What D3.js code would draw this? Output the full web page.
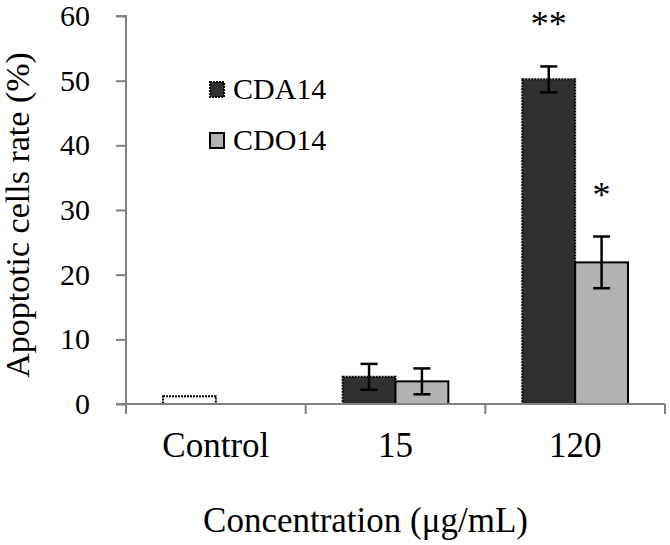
<!DOCTYPE html>
<html>
<head>
<meta charset="utf-8">
<script src="https://cdn.jsdelivr.net/npm/d3@7"></script>
<style>
  html, body { margin: 0; padding: 0; background: #fff; }
  svg { display: block; }
  text { font-family: "Liberation Serif", "Times New Roman", serif; fill: #000; }
</style>
</head>
<body>
<svg id="chart" width="670" height="545"></svg>
<script>
const categories = ["Control", "15", "120"];
const seriesNames = ["CDA14", "CDO14"];
const cda14 = [1.2, 4.2, 50.2];
const cda14Err = [0, 2.0, 2.0];
const cdo14 = [null, 3.5, 21.9];
const cdo14Err = [null, 2.0, 4.0];
const cda14Sig = ["", "", "**"];
const cdo14Sig = ["", "", "*"];
const yTicks = [0, 10, 20, 30, 40, 50, 60];

(function () {
const SERIF = '"Liberation Serif", "Times New Roman", serif';
const svg = d3.select("#chart");
const mLeft = 126, mRight = 665, mTop = 16, mBottom = 404;
const FONT = 30;

const x0 = d3.scaleBand().domain(categories).range([mLeft, mRight]).padding(0);
const x1 = d3.scaleBand().domain(seriesNames).range([0, x0.bandwidth()]).paddingInner(0).paddingOuter(0.7);
const y = d3.scaleLinear().domain([0, 60]).range([mBottom, mTop]);

const rows = categories.map((c, i) => ({
  cat: c,
  items: [
    { s: "CDA14", v: cda14[i], e: cda14Err[i], sig: cda14Sig[i], control: c === "Control" },
    { s: "CDO14", v: cdo14[i], e: cdo14Err[i], sig: cdo14Sig[i], control: false }
  ].filter(d => d.v != null)
}));

const fills = { CDA14: "#303030", CDO14: "#b2b2b2" };

const g = svg.append("g");
const groups = g.selectAll("g.grp").data(rows).enter().append("g")
  .attr("transform", d => `translate(${x0(d.cat)},0)`);

const items = groups.selectAll("g.item").data(d => d.items).enter().append("g");

items.append("rect")
  .attr("x", d => x1(d.s))
  .attr("width", x1.bandwidth())
  .attr("y", d => y(d.v))
  .attr("height", d => y(0) - y(d.v))
  .attr("fill", d => d.control ? "#ffffff" : fills[d.s])
  .attr("stroke", "#000")
  .attr("stroke-width", 2)
  .attr("stroke-dasharray", d => d.s === "CDA14" ? "2,1" : null);

const eb = items.filter(d => d.e > 0);
const capW = 17;
const cx = d => x1(d.s) + x1.bandwidth() / 2;
eb.append("line")
  .attr("x1", cx).attr("x2", cx)
  .attr("y1", d => y(d.v + d.e))
  .attr("y2", d => y(d.v - d.e))
  .attr("stroke", "#000").attr("stroke-width", 2.5);
eb.append("line")
  .attr("x1", d => cx(d) - capW / 2)
  .attr("x2", d => cx(d) + capW / 2)
  .attr("y1", d => y(d.v + d.e)).attr("y2", d => y(d.v + d.e))
  .attr("stroke", "#000").attr("stroke-width", 2.5);
eb.append("line")
  .attr("x1", d => cx(d) - capW / 2)
  .attr("x2", d => cx(d) + capW / 2)
  .attr("y1", d => y(d.v - d.e)).attr("y2", d => y(d.v - d.e))
  .attr("stroke", "#000").attr("stroke-width", 2.5);

items.filter(d => d.sig).append("text")
  .attr("x", cx)
  .attr("y", d => y(d.v + d.e) - 30)
  .attr("text-anchor", "middle")
  .style("font-family", SERIF)
  .style("font-size", "36px")
  .text(d => d.sig);

const axisColor = "#808080";
const yAxis = d3.axisLeft(y).tickValues(yTicks).tickSize(10).tickPadding(26).tickFormat(d3.format("d"));
const ya = svg.append("g").attr("transform", `translate(${mLeft},0)`).call(yAxis);
ya.attr("font-family", null);
ya.select(".domain").attr("stroke", axisColor).attr("stroke-width", 2).attr("d", `M-10,${mTop}H0V${mBottom}`);
ya.selectAll(".tick line").attr("stroke", axisColor).attr("stroke-width", 2);
ya.selectAll(".tick text").style("font-size", FONT + "px").style("font-family", SERIF).attr("fill", "#000");

const xa = svg.append("g").attr("transform", `translate(0,${mBottom})`);
xa.append("line").attr("x1", mLeft - 10).attr("x2", mRight).attr("y1", 0).attr("y2", 0)
  .attr("stroke", axisColor).attr("stroke-width", 2);
const boundaries = categories.map(c => x0(c)).concat([x0(categories[categories.length - 1]) + x0.bandwidth()]);
xa.selectAll("line.tk").data(boundaries).enter().append("line")
  .attr("x1", d => d).attr("x2", d => d).attr("y1", 0).attr("y2", 10)
  .attr("stroke", axisColor).attr("stroke-width", 2);
xa.selectAll("text.lbl").data(categories).enter().append("text")
  .attr("x", d => x0(d) + x0.bandwidth() / 2)
  .attr("y", 53)
  .attr("text-anchor", "middle")
  .style("font-family", SERIF)
  .style("font-size", "35px")
  .text(d => d);

svg.append("text")
  .attr("transform", `translate(29,${(mTop + mBottom) / 2 + 5}) rotate(-90)`)
  .attr("text-anchor", "middle")
  .style("font-family", SERIF)
  .style("font-size", "34px")
  .text("Apoptotic cells rate (%)");
svg.append("text")
  .attr("x", (mLeft + mRight) / 2 - 30)
  .attr("y", 532)
  .attr("text-anchor", "middle")
  .style("font-family", SERIF)
  .style("font-size", "35px")
  .text("Concentration (μg/mL)");

const legend = svg.append("g").attr("transform", "translate(209,81)");
const li = legend.selectAll("g").data(seriesNames).enter().append("g")
  .attr("transform", (d, i) => `translate(0,${i * 51})`);
li.append("rect").attr("x", 1).attr("y", 1).attr("width", 14).attr("height", 15)
  .attr("fill", d => fills[d]).attr("stroke", "#000").attr("stroke-width", 2)
  .attr("stroke-dasharray", d => d === "CDA14" ? "2,1" : null);
li.append("text").attr("x", 24).attr("y", 18)
  .style("font-family", SERIF).style("font-size", FONT + "px").text(d => d);
})();
</script>
</body>
</html>
